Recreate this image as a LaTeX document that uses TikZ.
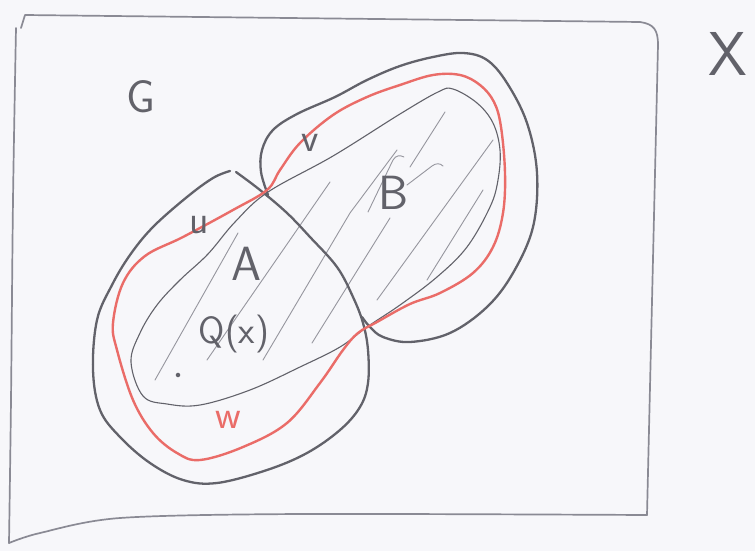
\documentclass[tikz,border=0pt]{standalone}
\definecolor{pencil}{RGB}{98,98,106}
\definecolor{lightpencil}{RGB}{138,138,148}
\definecolor{hatchgray}{RGB}{150,150,158}
\definecolor{redpencil}{RGB}{234,108,104}
\definecolor{paper}{RGB}{247,247,250}
\begin{document}
\begin{tikzpicture}[x=1pt,y=-1pt,
  outline/.style={draw=pencil,line width=2.3pt,line cap=round,line join=round},
  innerline/.style={draw=pencil,line width=1.1pt,line cap=round,line join=round},
  hatch/.style={draw=hatchgray,line width=0.9pt,line cap=round},
  redline/.style={draw=redpencil,line width=2.4pt,line cap=round,line join=round},
  frame/.style={draw=lightpencil,line width=1.7pt,line cap=round,line join=round},
  lbl/.style={text=pencil,font=\sffamily,inner sep=0pt},
  redlbl/.style={text=redpencil,font=\sffamily,inner sep=0pt}]
\fill[paper] (0,0) rectangle (755,551);
\useasboundingbox (0,0) rectangle (755,551);

% frame X
\draw[frame] plot[smooth] coordinates {(16,28) (13,200) (11,400) (9,543)};
\draw[frame] (21,28) -- (25,15) -- (640,22) .. controls (654,24) and (658,30) .. (658,45) -- (647,515);
\draw[frame] plot[smooth] coordinates {(9,543) (40,533) (120,518) (300,514) (647,515)};

% inner thin region (A and B)
\draw[innerline] plot[smooth cycle, tension=0.6] coordinates {
  (131,362) (140,333) (157,305) (180,280) (208,254) (235,222) (268,192)
  (333,156) (400,114) (438,92) (453,89) (477,103) (493,123) (500,150)
  (498,180) (490,207) (467,247) (437,277) (400,305) (367,327) (340,347)
  (300,367) (250,390) (200,405) (167,404) (143,396)};

% hatching
\draw[hatch] (155,380) -- (238,233);
\draw[hatch] (207,360) -- (330,182);
\draw[hatch] (263,360) -- (350,213) -- (397,150);
\draw[hatch] (312,343) -- (390,218);
\draw[hatch] (377,300) -- (493,140);
\draw[hatch] (427,280) -- (483,190);
\draw[hatch] (410,167) -- (445,112);
\draw[hatch] (368,212) -- (393,160) .. controls (396,155) and (400,155) .. (404,157);
\draw[hatch] (407,185) -- (432,166) .. controls (436,163) and (440,163) .. (443,166);

% U (left lobe)
\draw[outline] plot[smooth, tension=0.6] coordinates {
  (236,172) (260,190) (287,213) (310,237) (337,267) (353,297) (363,323)
  (368,350) (368,383) (360,407) (340,430) (307,453) (267,470) (217,483)
  (183,480) (150,463) (120,437) (100,410) (93,370) (97,320) (112,285)
  (130,255) (153,227) (187,197) (213,178) (230,171)};

% V (right lobe)
\draw[outline] plot[smooth, tension=0.6] coordinates {
  (268,195) (261,172) (262,150) (273,130) (297,114) (335,97) (367,80)
  (400,66) (433,57) (463,53) (487,60) (507,83) (527,123) (537,173)
  (533,227) (513,273) (487,307) (450,333) (410,342) (383,337) (370,327)
  (362,317)};

% W (red)
\draw[redline] plot[smooth cycle, tension=0.6] coordinates {
  (267,190) (280,170) (300,143) (333,115) (367,97) (400,85) (433,75)
  (460,75) (480,85) (494,102) (501,127) (505,173) (503,213) (493,247)
  (473,273) (440,293) (410,304) (377,322) (358,333) (343,350) (320,383)
  (287,423) (243,447) (200,460) (177,453) (153,433) (133,400) (117,350)
  (113,323) (123,283) (145,256) (183,237) (233,210)};

% labels
\node[lbl,font=\sffamily\fontsize{46}{46}\selectfont] (labelG) at (141,97) {G};
\node[lbl,font=\sffamily\fontsize{62}{62}\selectfont] (labelX) at (728,54) {X};
\node[lbl,font=\sffamily\fontsize{40}{40}\selectfont] (labelu) at (199,225) {u};
\node[lbl,font=\sffamily\fontsize{40}{40}\selectfont] (labelv) at (310,143) {v};
\node[lbl,font=\sffamily\fontsize{48}{48}\selectfont] (labelA) at (246,264) {A};
\node[lbl,font=\sffamily\fontsize{48}{48}\selectfont] (labelB) at (394,193) {B};
\node[lbl,font=\sffamily\fontsize{38}{38}\selectfont] (labelQ) at (234,334) {Q(x)};
\node[redlbl,font=\sffamily\fontsize{40}{40}\selectfont] (labelw) at (228,420) {w};
\node[circle,fill=pencil,inner sep=1.6pt] (dot) at (178,375) {};
\end{tikzpicture}
\end{document}
